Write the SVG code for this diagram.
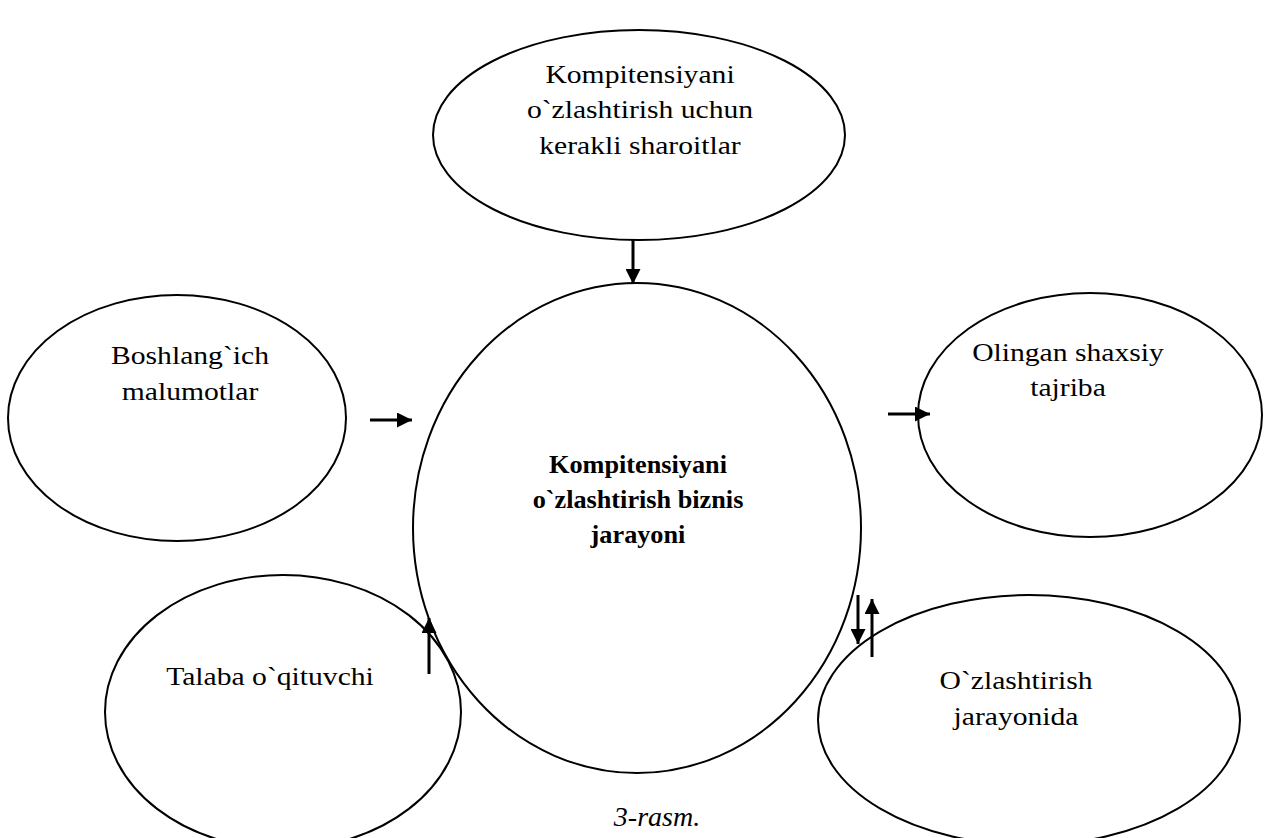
<svg xmlns="http://www.w3.org/2000/svg" width="1270" height="838" viewBox="0 0 1270 838">
<defs>
<marker id="ah" viewBox="0 0 10 10" refX="10" refY="5" markerWidth="5" markerHeight="5" orient="auto" markerUnits="strokeWidth"><path d="M0,0 L10,5 L0,10 z" fill="#000"/></marker>
<style>
.n{fill:none;stroke:#000;stroke-width:2}
.t{font-family:"Liberation Serif",serif;font-size:26px;fill:#000;text-anchor:middle}
.b{font-weight:bold;font-size:25px}
.c{stroke:#000;stroke-width:3;fill:none;marker-end:url(#ah)}
</style>
</defs>
<rect width="1270" height="838" fill="#fff"/>
<g id="top"><ellipse class="n" cx="639" cy="135" rx="206" ry="105"/>
<g transform="translate(640 0) scale(1.14 1)"><text class="t" x="0" y="83">Kompitensiyani</text><text class="t" x="0" y="118">o`zlashtirish uchun</text><text class="t" x="0" y="154">kerakli sharoitlar</text></g></g>
<g id="center"><ellipse class="n" cx="637" cy="528" rx="224" ry="245"/>
<g transform="translate(638 0) scale(1.05 1)"><text class="t b" x="0" y="473">Kompitensiyani</text><text class="t b" x="0" y="508">o`zlashtirish biznis</text><text class="t b" x="0" y="543">jarayoni</text></g></g>
<g id="left"><ellipse class="n" cx="177" cy="418" rx="169" ry="123"/>
<g transform="translate(190 0) scale(1.14 1)"><text class="t" x="0" y="364">Boshlang`ich</text><text class="t" x="0" y="400">malumotlar</text></g></g>
<g id="right"><ellipse class="n" cx="1090" cy="415" rx="172" ry="122"/>
<g transform="translate(1068 0) scale(1.14 1)"><text class="t" x="0" y="361">Olingan shaxsiy</text><text class="t" x="0" y="396">tajriba</text></g></g>
<g id="bottomleft"><ellipse class="n" cx="283" cy="712" rx="178" ry="137"/>
<g transform="translate(270 0) scale(1.14 1)"><text class="t" x="0" y="685">Talaba o`qituvchi</text></g></g>
<g id="bottomright"><ellipse class="n" cx="1029" cy="720" rx="211" ry="125"/>
<g transform="translate(1016 0) scale(1.14 1)"><text class="t" x="0" y="689">O`zlashtirish</text><text class="t" x="0" y="725">jarayonida</text></g></g>
<g id="connectors">
<line class="c" x1="633" y1="239" x2="633" y2="284"/>
<line class="c" x1="370" y1="420" x2="412" y2="420"/>
<line class="c" x1="888" y1="414" x2="930" y2="414"/>
<line class="c" x1="429" y1="674" x2="429" y2="618"/>
<line class="c" x1="858" y1="595" x2="858" y2="644"/>
<line class="c" x1="872" y1="657" x2="872" y2="599"/>
</g>
<text x="657" y="826" style="font-family:'Liberation Serif',serif;font-size:28px;font-style:italic;text-anchor:middle">3-rasm.</text>
</svg>
